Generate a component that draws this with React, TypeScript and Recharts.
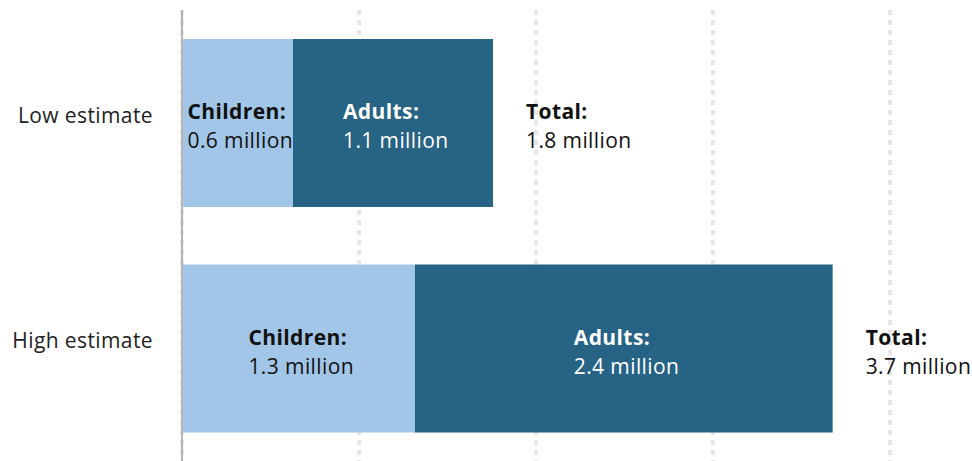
import React from 'react';
import { BarChart, Bar, XAxis, YAxis, ReferenceLine, LabelList, CartesianGrid } from 'recharts';

const categories = ['Low estimate', 'High estimate'];
const children = [0.627, 1.316];
const adults = [1.13, 2.36];
const xTicks = [0, 1, 2, 3, 4];

const data = categories.map((name, i) => ({
  name,
  children: children[i],
  adults: adults[i],
  total: children[i] + adults[i],
}));

const FONT = '"Open Sans", sans-serif';
const FS = 21;
const LS = 0.4;
const BLOCK_W = 100;

const fmt = (v: number) => `${v.toFixed(1)} million`;

const TwoLine = ({ x, y, title, value, fill }: any) => (
  <g>
    <text x={x} y={y - 4} fill={fill} fontFamily={FONT} fontSize={FS} fontWeight={700} letterSpacing={LS}>
      {title}
    </text>
    <text x={x} y={y + 25} fill={fill} fontFamily={FONT} fontSize={FS} letterSpacing={LS}>
      {value}
    </text>
  </g>
);

const makeInner = (title: string, key: 'children' | 'adults', fill: string) => (props: any) => {
  const { x, y, width, height, index } = props;
  const cx = Number(x) + Number(width) / 2;
  const cy = Number(y) + Number(height) / 2;
  const v = data[index][key];
  return <TwoLine key={`${key}-${index}`} x={cx - BLOCK_W / 2} y={cy} title={title} value={fmt(v)} fill={fill} />;
};

const totalLabel = (props: any) => {
  const { x, y, width, height, index } = props;
  const cy = Number(y) + Number(height) / 2;
  return <TwoLine key={`t-${index}`} x={Number(x) + Number(width) + 33} y={cy} title="Total:" value={fmt(data[index].total)} fill="#111" />;
};

const YTick = (props: any) => {
  const { x, y, payload } = props;
  return (
    <text x={x - 21} y={y} textAnchor="end" fontFamily={FONT} fontSize={FS} letterSpacing={LS} fill="#222">
      {payload.value}
    </text>
  );
};

const NoTick = () => <g />;

export default function App() {
  return (
    <div style={{ position: 'absolute', left: 0, top: 0, width: 972, height: 461, background: '#fff' }}>
      <BarChart
        width={972}
        height={461}
        data={data}
        layout="vertical"
        margin={{ top: 10, right: 82, bottom: 0, left: 0 }}
        barSize={168}
      >
        <CartesianGrid horizontal={false} stroke="#e6e6e6" strokeWidth={4} strokeDasharray="5 5" />
        <XAxis
          type="number"
          domain={[0, 4]}
          ticks={xTicks}
          interval={0}
          axisLine={false}
          tickLine={false}
          tick={<NoTick />}
          height={0}
        />
        <YAxis type="category" dataKey="name" width={182} axisLine={false} tickLine={false} tick={<YTick />} />
        <Bar dataKey="children" stackId="a" fill="#a1c6e7" isAnimationActive={false}>
          <LabelList content={makeInner('Children:', 'children', '#111')} />
        </Bar>
        <Bar dataKey="adults" stackId="a" fill="#266385" isAnimationActive={false}>
          <LabelList content={makeInner('Adults:', 'adults', '#fff')} />
          <LabelList content={totalLabel} />
        </Bar>
        <ReferenceLine x={0} stroke="#b5b5b5" strokeWidth={2} />
      </BarChart>
    </div>
  );
}
